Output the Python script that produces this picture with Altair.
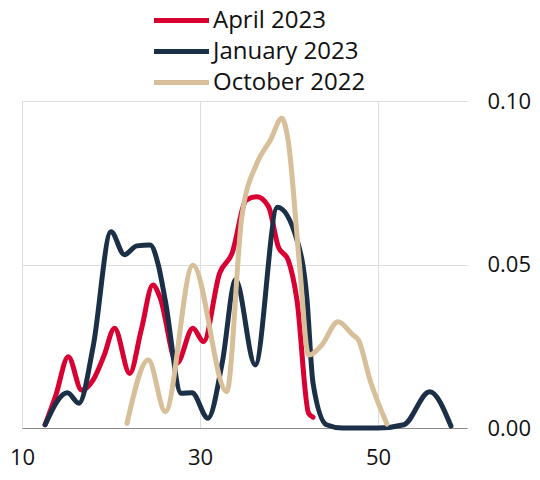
import altair as alt
import pandas as pd

series_names = ["April 2023", "January 2023", "October 2022"]

april_x = [12.6, 13.8, 15.2, 16.7, 18.0, 19.2, 20.4, 22.1, 23.4, 24.7, 25.5, 27.4, 29.2, 30.4, 32.2, 33.6, 35.2, 36.4, 37.7, 38.8, 39.9, 40.9, 42.2, 42.7]
april_y = [0.001, 0.010, 0.0218, 0.0116, 0.0147, 0.022, 0.0305, 0.0167, 0.030, 0.0437, 0.040, 0.0198, 0.0305, 0.0264, 0.0473, 0.0534, 0.0697, 0.0707, 0.0677, 0.0554, 0.0514, 0.039, 0.0045, 0.0033]

january_x = [12.6, 15.1, 16.4, 18.0, 20.0, 21.5, 22.9, 24.4, 25.3, 26.1, 27.9, 29.1, 30.9, 32.5, 34.0, 36.2, 38.7, 40.9, 42.0, 42.7, 44.2, 46.0, 50.0, 52.9, 55.8, 58.2]
january_y = [0.001, 0.0108, 0.0076, 0.025, 0.060, 0.053, 0.0557, 0.056, 0.050, 0.039, 0.0106, 0.0108, 0.003, 0.020, 0.0453, 0.0193, 0.0675, 0.0575, 0.040, 0.0137, 0.001, 0.0, 0.0, 0.001, 0.0111, 0.0006]

october_x = [21.8, 24.2, 26.1, 29.2, 33.0, 34.7, 36.4, 37.9, 39.2, 39.9, 41.2, 42.2, 43.7, 45.5, 47.2, 47.8, 49.1, 51.0]
october_y = [0.0014, 0.0208, 0.005, 0.0498, 0.0111, 0.0646, 0.081, 0.088, 0.0947, 0.088, 0.0493, 0.0223, 0.0254, 0.0325, 0.0284, 0.0269, 0.0147, 0.0012]

colors = ["#d90032", "#1b2f47", "#d6bf99"]

x_ticks = [10, 30, 50]
y_ticks = [0.0, 0.05, 0.10]

rows = []
for name, xs, ys in [(series_names[0], april_x, april_y),
                     (series_names[1], january_x, january_y),
                     (series_names[2], october_x, october_y)]:
    for i, (xv, yv) in enumerate(zip(xs, ys)):
        rows.append({"series": name, "x": xv, "y": yv, "order": i})
df = pd.DataFrame(rows)

chart = alt.Chart(df).mark_line(interpolate="monotone", strokeWidth=5, strokeCap="round").encode(
    x=alt.X("x:Q", scale=alt.Scale(domain=[10, 60], nice=False),
            axis=alt.Axis(values=x_ticks, title=None, ticks=False, labelFontSize=22,
                          labelPadding=19, domainColor="#888888", gridColor="#dddddd",
                          labelColor="#111111", labelFont="Open Sans", labelFlush=False)),
    y=alt.Y("y:Q", scale=alt.Scale(domain=[0, 0.10], nice=False),
            axis=alt.Axis(orient="right", values=y_ticks, format=".2f", title=None, ticks=False,
                          domain=False, labelFontSize=22, labelPadding=20, gridColor="#dddddd",
                          labelColor="#111111", labelFont="Open Sans")),
    color=alt.Color("series:N", scale=alt.Scale(domain=series_names, range=colors),
                    legend=alt.Legend(title=None, orient="none", legendX=147, legendY=-93,
                                      symbolType="M-2.75,0H2.75", symbolSize=400, symbolStrokeWidth=5,
                                      labelFontSize=24, labelFont="Open Sans", labelColor="#111111",
                                      labelOffset=19, rowPadding=6)),
    order="order:Q",
    detail="series:N",
).properties(
    width=445, height=327,
    padding={"left": 14, "top": 93, "right": 65, "bottom": 44},
    autosize=alt.AutoSizeParams(type="none"),
).configure_view(stroke=None)

chart.save("out.html", embed_options={"renderer": "svg", "actions": False})
